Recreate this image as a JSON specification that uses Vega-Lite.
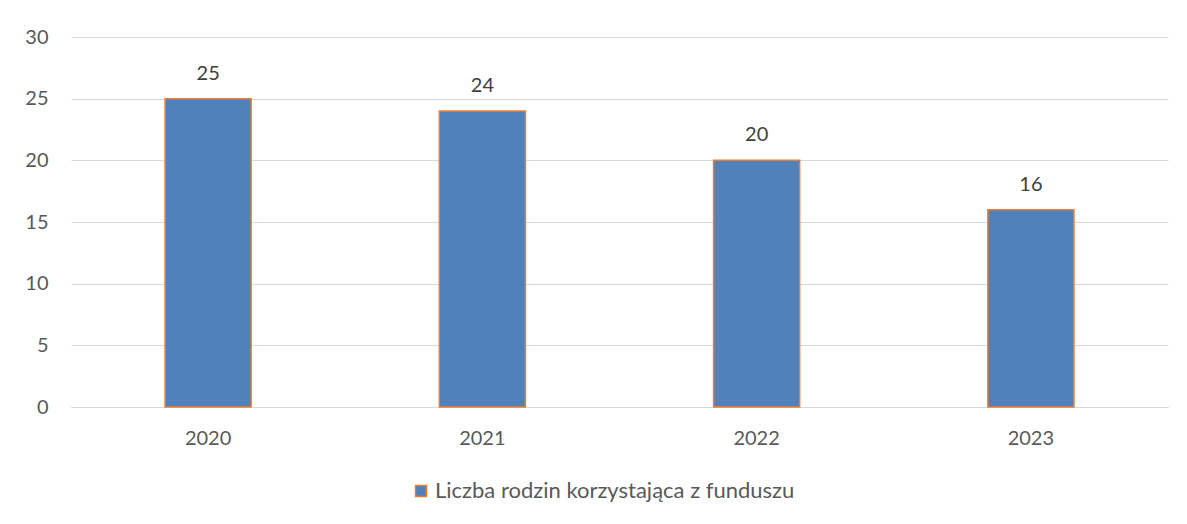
{
  "$schema": "https://vega.github.io/schema/vega-lite/v6.json",
  "width": 1097,
  "height": 370,
  "autosize": {"type": "none"},
  "padding": {"left": 71, "top": 37, "right": 19, "bottom": 117},
  "background": "white",
  "config": {
    "view": {"stroke": null},
    "font": "Lato",
    "axis": {"labelFont": "Lato", "labelFontSize": 20, "labelColor": "#595959"},
    "legend": {"labelFont": "Lato", "labelFontSize": 22, "labelColor": "#595959", "labelLimit": 0}
  },
  "data": {
    "values": [
      {"year": "2020", "value": 25, "series": "Liczba rodzin korzystająca z funduszu"},
      {"year": "2021", "value": 24, "series": "Liczba rodzin korzystająca z funduszu"},
      {"year": "2022", "value": 20, "series": "Liczba rodzin korzystająca z funduszu"},
      {"year": "2023", "value": 16, "series": "Liczba rodzin korzystająca z funduszu"}
    ]
  },
  "encoding": {
    "x": {
      "field": "year", "type": "nominal", "title": null,
      "scale": {"paddingInner": 0.686, "paddingOuter": 0.343},
      "axis": {"labelAngle": 0, "ticks": false, "tickSize": 0, "labelPadding": 31, "labelBaseline": "middle",
               "domainColor": "#d9d9d9", "domainWidth": 1, "grid": false}
    },
    "y": {
      "field": "value", "type": "quantitative", "title": null,
      "scale": {"domain": [0, 30], "nice": false},
      "axis": {"values": [0, 5, 10, 15, 20, 25, 30], "ticks": false, "tickSize": 0, "domain": false,
               "labelPadding": 23, "gridColor": "#d9d9d9", "gridWidth": 1}
    }
  },
  "layer": [
    {
      "mark": {"type": "bar", "stroke": "#ED7D31", "strokeWidth": 1.5},
      "encoding": {
        "color": {
          "field": "series", "type": "nominal", "title": null,
          "scale": {"range": ["#4F81BD"]},
          "legend": {"orient": "none", "legendX": 339, "legendY": 443, "symbolType": "square",
                     "symbolSize": 121, "symbolStrokeColor": "#ED7D31", "symbolStrokeWidth": 1.5,
                     "symbolFillColor": "#4F81BD", "symbolOpacity": 1, "labelOffset": 3, "labelLimit": 0}
        }
      }
    },
    {
      "mark": {"type": "text", "baseline": "middle", "dy": -25, "fontSize": 20, "color": "#404040", "font": "Lato"},
      "encoding": {"text": {"field": "value", "type": "quantitative"}}
    }
  ]
}
